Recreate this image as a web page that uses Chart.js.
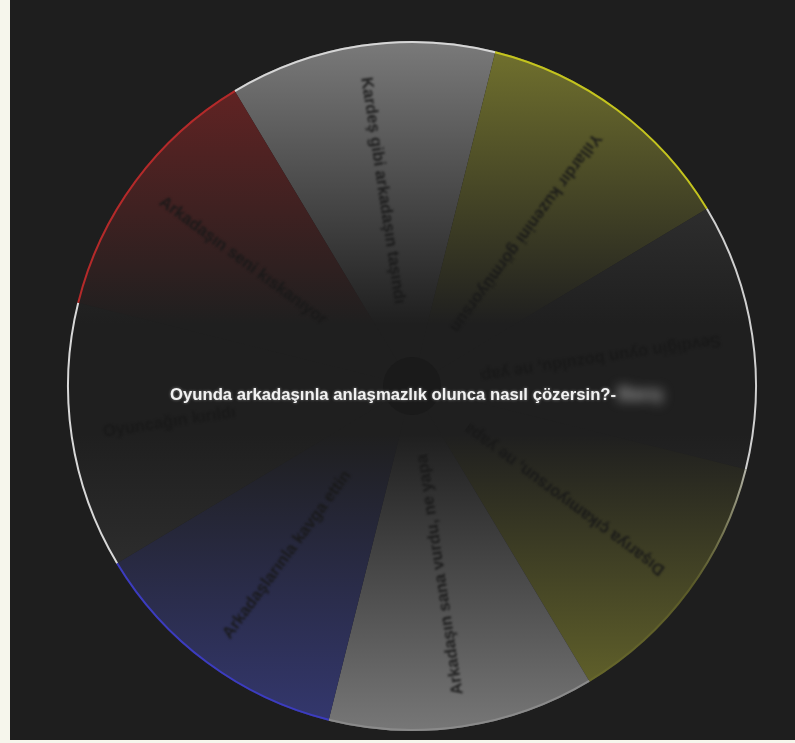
<!DOCTYPE html>
<html>
<head>
<meta charset="utf-8">
<script src="https://cdn.jsdelivr.net/npm/chart.js@4.4.0/dist/chart.umd.min.js"></script>
<style>
  html, body { margin:0; padding:0; background:#f6f6ec; }
  #panel { position:absolute; left:10px; top:0; width:785px; height:740px; background:#1e1e1e; }
  #wrap { position:absolute; left:0; top:0; width:795px; height:743px; }
</style>
</head>
<body>
<div id="panel"></div>
<div id="wrap"><canvas id="wheel"></canvas></div>
<script>
// çark verisi
var soru = 'Oyunda arkadaşınla anlaşmazlık olunca nasıl çözersin?-';
var cevap = 'Barış';
var dilimler = [
  'Kardeş gibi arkadaşın taşındı',
  'Yıllardır kuzenini görmüyorsun',
  'Sevdiğin oyun bozuldu, ne yaparsın',
  'Dışarıya çıkamıyorsun, ne yaparsın',
  'Arkadaşın sana vurdu, ne yaparsın',
  'Arkadaşlarınla kavga ettin',
  'Oyuncağın kırıldı',
  'Arkadaşın seni kıskanıyor'
];
var degerler = [1, 1, 1, 1, 1, 1, 1, 1];
var renkler = ['#7a7a7a', '#73732e', '#424242', '#6c6c2c', '#777777', '#343870', '#3e3e3e', '#6e2424'];
var kenarRenkler = ['#d6d6d6', '#c4c41e', '#d0d0d0', null, '#8a8a8a', '#3c3cc0', '#d8d8d8', '#b42a2a'];
var koyu = '#1f1f1f';

// dikey gradyan: üst ve alt kenar renkli, orta koyu
function dilimRengi(ctx){
  var area = ctx.chart.chartArea;
  var renk = renkler[ctx.dataIndex];
  if (!area) return renk;
  var g = ctx.chart.ctx.createLinearGradient(0, area.top, 0, area.bottom);
  g.addColorStop(0, renk);
  g.addColorStop(0.41, koyu);
  g.addColorStop(0.57, koyu);
  g.addColorStop(1, renk);
  return g;
}

var carkYazi = {
  id: 'carkYazi',
  afterDatasetsDraw: function(chart){
    var c = chart.ctx;
    var arcs = chart.getDatasetMeta(0).data;
    arcs.forEach(function(arc, i){
      // dış kenar çizgisi
      var kenar = kenarRenkler[i];
      if (!kenar) {
        // sağ alt: beyaz parıltı aşağı doğru sönüyor
        kenar = c.createLinearGradient(0, arc.y + 60, 0, arc.y + 200);
        kenar.addColorStop(0, '#d0d0d0');
        kenar.addColorStop(1, 'rgba(110,110,44,0.5)');
      }
      c.save();
      c.beginPath();
      c.arc(arc.x, arc.y, arc.outerRadius - 1, arc.startAngle, arc.endAngle);
      c.strokeStyle = kenar;
      c.lineWidth = 2;
      c.stroke();
      c.restore();

      // dilim yazısı, dıştan merkeze doğru; merkeze yakın kısım kesilir
      var mid = (arc.startAngle + arc.endAngle) / 2;
      var r = arc.outerRadius * 0.905;
      c.save();
      c.beginPath();
      c.arc(arc.x, arc.y, arc.outerRadius, 0, Math.PI * 2);
      c.arc(arc.x, arc.y, arc.outerRadius * 0.2, 0, Math.PI * 2, true);
      c.clip();
      c.translate(arc.x + Math.cos(mid) * r, arc.y + Math.sin(mid) * r);
      c.rotate(mid + Math.PI);
      c.font = 'bold 16.5px "Liberation Sans", Arial, sans-serif';
      c.fillStyle = 'rgba(24,24,24,0.9)';
      c.filter = 'blur(0.8px)';
      c.textAlign = 'left';
      c.textBaseline = 'middle';
      c.fillText(dilimler[i], 0, 0);
      c.restore();
    });

    var a0 = arcs[0];
    // orta daire
    c.save();
    c.beginPath();
    c.arc(a0.x, a0.y, 29, 0, Math.PI * 2);
    c.fillStyle = '#1a1a1a';
    c.fill();
    c.restore();

    // soru yazısı
    c.save();
    c.font = 'bold 16.7px "Liberation Sans", Arial, sans-serif';
    c.textAlign = 'left';
    c.textBaseline = 'middle';
    var w = c.measureText(soru).width;
    var x0 = a0.x - 242;
    c.shadowColor = 'rgba(255,255,255,0.45)';
    c.shadowBlur = 3;
    c.fillStyle = '#f2f2f2';
    c.fillText(soru, x0, a0.y + 9);
    c.restore();

    // bulanık cevap
    c.save();
    c.font = 'bold 18px "Liberation Sans", Arial, sans-serif';
    c.textAlign = 'left';
    c.textBaseline = 'middle';
    c.filter = 'blur(6px)';
    c.fillStyle = '#b0b0b0';
    c.fillText(cevap, x0 + w + 2, a0.y + 9);
    c.restore();
  }
};

new Chart(document.getElementById('wheel'), {
  type: 'pie',
  data: {
    labels: dilimler,
    datasets: [{
      data: degerler,
      backgroundColor: dilimRengi,
      borderWidth: 0
    }]
  },
  options: {
    responsive: true,
    maintainAspectRatio: false,
    animation: false,
    rotation: -31,
    layout: { padding: { left: 67, right: 38, top: 41, bottom: 12 } },
    plugins: {
      legend: { display: false },
      tooltip: { enabled: false }
    },
    events: []
  },
  plugins: [carkYazi]
});
</script>
</body>
</html>
